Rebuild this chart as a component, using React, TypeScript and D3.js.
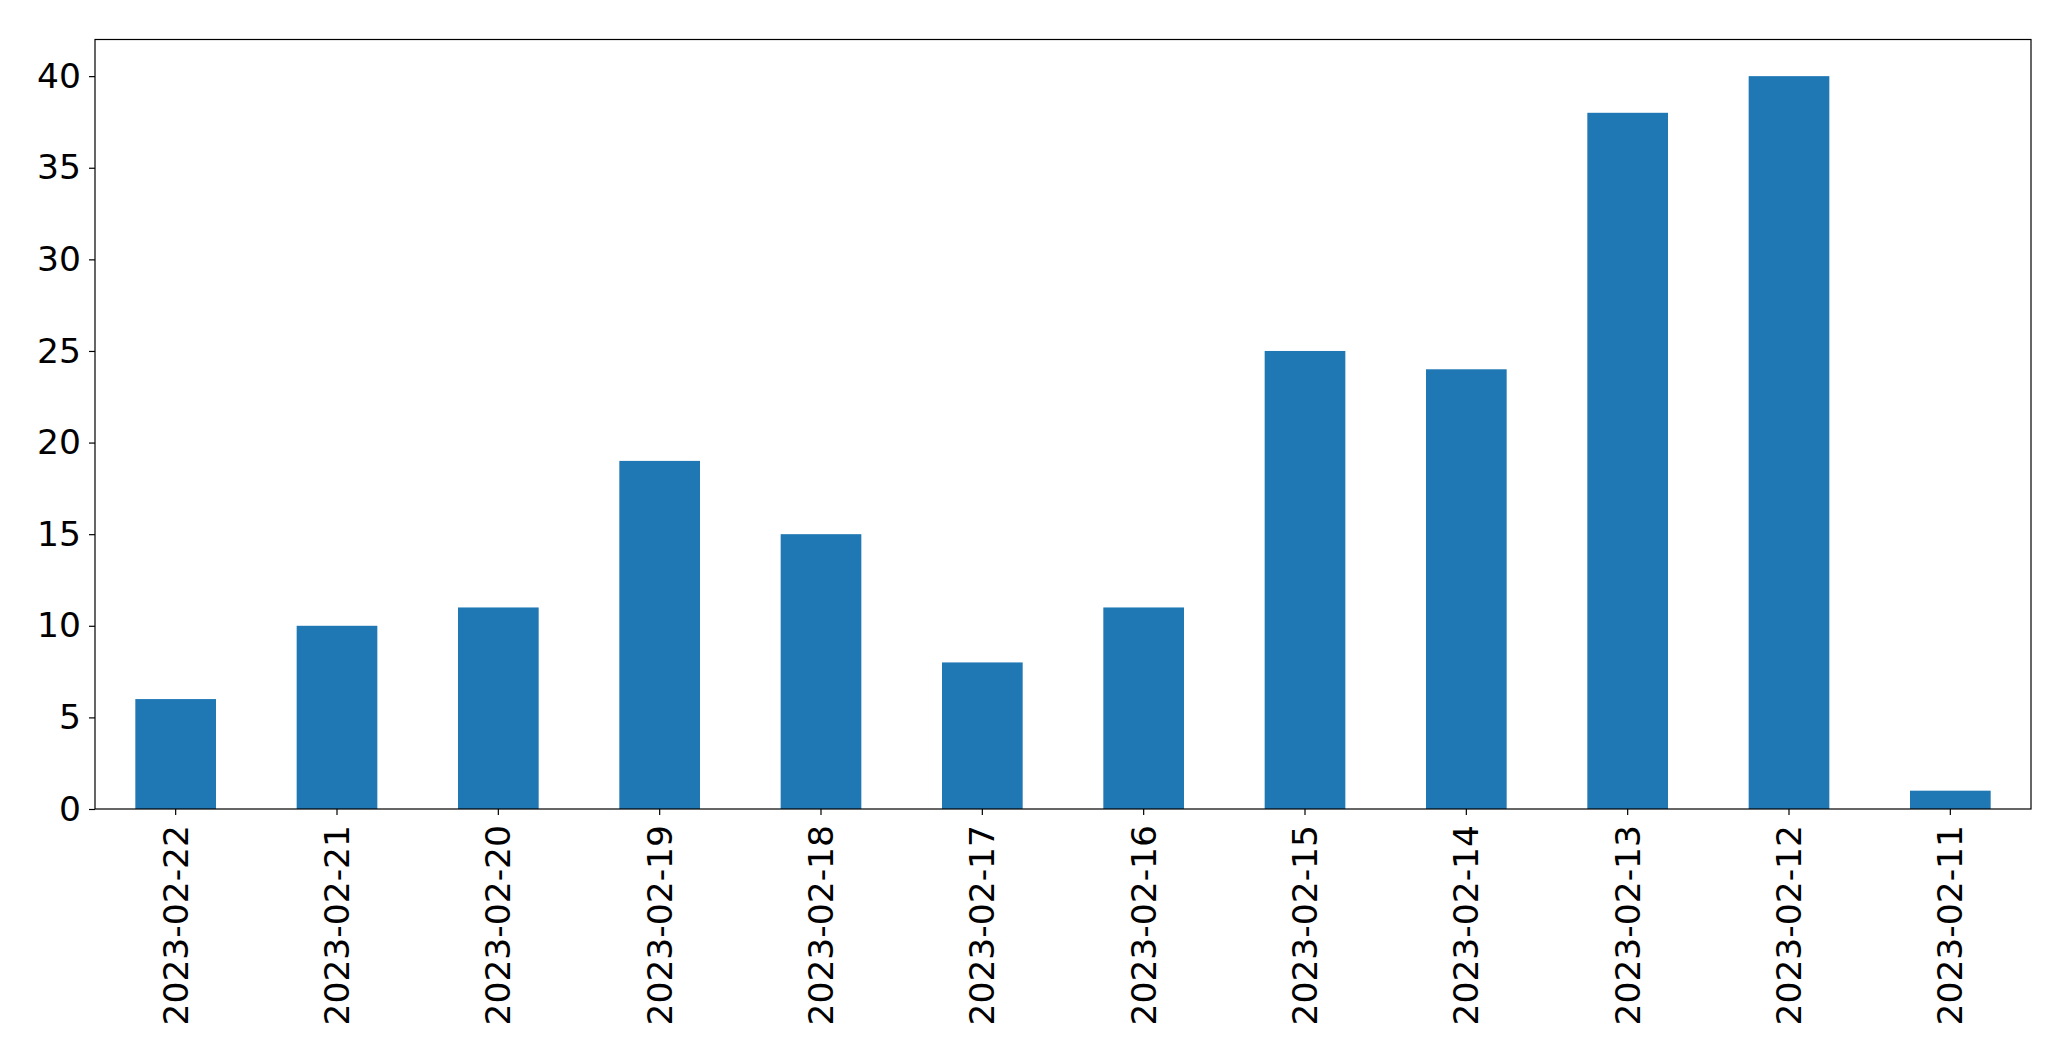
import { useEffect, useRef } from "react";
import * as d3 from "d3";

// values
const dates = ["2023-02-22", "2023-02-21", "2023-02-20", "2023-02-19", "2023-02-18", "2023-02-17",
    "2023-02-16", "2023-02-15", "2023-02-14", "2023-02-13", "2023-02-12", "2023-02-11"];
const counts = [6, 10, 11, 19, 15, 8, 11, 25, 24, 38, 40, 1];
const yTicks = [0, 5, 10, 15, 20, 25, 30, 35, 40];

const App = () => {
    const chartRef = useRef<SVGSVGElement | null>(null);

    useEffect(() => {
        if (!chartRef.current) return;
        d3.select(chartRef.current).selectAll("*").remove();

        const width = 2071;
        const height = 1061;
        const margin = { top: 39.5, right: 40, bottom: 252, left: 95 };
        const font = "'DejaVu Sans', sans-serif";
        const fontSize = 34.5;

        const svg = d3.select(chartRef.current)
            .attr("width", width)
            .attr("height", height);

        const x = d3.scaleBand()
            .domain(dates)
            .range([margin.left, width - margin.right])
            .paddingInner(0.5)
            .paddingOuter(0.25);

        const y = d3.scaleLinear()
            .domain([0, 42])
            .range([height - margin.bottom, margin.top]);

        // bars
        svg.selectAll(".bar")
            .data(counts)
            .enter().append("rect")
            .attr("class", "bar")
            .attr("x", (_, i) => x(dates[i]) as number)
            .attr("y", d => y(d))
            .attr("width", x.bandwidth())
            .attr("height", d => y(0) - y(d))
            .attr("fill", "#1f77b4");

        // frame
        svg.append("rect")
            .attr("x", margin.left)
            .attr("y", margin.top)
            .attr("width", width - margin.left - margin.right)
            .attr("height", height - margin.top - margin.bottom)
            .attr("fill", "none")
            .attr("stroke", "black")
            .attr("stroke-width", 1.2);

        // x axis
        const xAxis = svg.append("g")
            .attr("transform", `translate(0,${height - margin.bottom})`)
            .call(d3.axisBottom(x).tickSize(6).tickPadding(12));
        xAxis.select(".domain").remove();
        xAxis.selectAll("line").attr("stroke", "black").attr("stroke-width", 1.2);
        xAxis.selectAll("text")
            .attr("transform", "rotate(-90)")
            .attr("x", -16)
            .attr("y", 0)
            .attr("dy", "0.35em")
            .style("text-anchor", "end")
            .style("font-family", font)
            .style("font-size", `${fontSize}px`)
            .attr("fill", "black");

        // y axis
        const yAxis = svg.append("g")
            .attr("transform", `translate(${margin.left},0)`)
            .call(d3.axisLeft(y).tickValues(yTicks).tickSize(6).tickPadding(8));
        yAxis.select(".domain").remove();
        yAxis.selectAll("line").attr("stroke", "black").attr("stroke-width", 1.2);
        yAxis.selectAll("text")
            .style("font-family", font)
            .style("font-size", `${fontSize}px`)
            .attr("fill", "black");
    }, []);

    return (
        <svg ref={chartRef} style={{ position: "absolute", left: 0, top: 0 }}></svg>
    );
};

export default App;
